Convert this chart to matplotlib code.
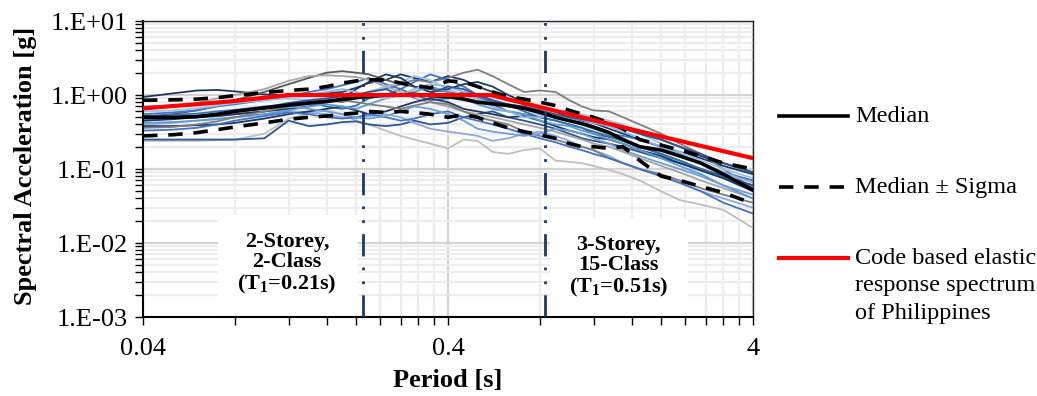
import matplotlib
matplotlib.use("Agg")
import matplotlib.pyplot as plt
from matplotlib.lines import Line2D
from matplotlib.patches import Rectangle
import numpy as np

plt.rcParams['font.family'] = ['Liberation Serif', 'DejaVu Serif']
plt.rcParams['mathtext.fontset'] = 'custom'
plt.rcParams['mathtext.rm'] = 'Liberation Serif'
plt.rcParams['mathtext.bf'] = 'Liberation Serif:bold'
plt.rcParams['mathtext.it'] = 'Liberation Serif:italic'

# ---------------- data ----------------
periods = [0.04, 0.05, 0.06, 0.07, 0.08, 0.10, 0.12, 0.14, 0.16, 0.18, 0.20, 0.22, 0.25,
           0.28, 0.31, 0.35, 0.40, 0.45, 0.50, 0.56, 0.63, 0.71, 0.80, 0.90, 1.0, 1.1,
           1.2, 1.35, 1.5, 1.7, 2.0, 2.3, 2.7, 3.2, 4.0]

rec01 = [0.94, 1.05, 1.15, 1.17, 1.12, 1.02, 0.98, 1.0, 1.05, 1.1, 1.25, 1.45, 1.6, 1.9, 1.7, 1.5, 1.8, 1.6, 1.3, 1.1, 0.9, 0.75, 0.7, 0.6, 0.5, 0.45, 0.42, 0.35, 0.3, 0.25, 0.2, 0.17, 0.14, 0.11, 0.085]
rec02 = [0.5, 0.55, 0.62, 0.72, 0.85, 1.1, 1.4, 1.7, 2.0, 2.1, 2.0, 1.9, 1.6, 1.4, 1.3, 1.2, 1.1, 1.0, 0.9, 0.75, 0.6, 0.55, 0.5, 0.45, 0.4, 0.36, 0.3, 0.27, 0.24, 0.2, 0.16, 0.13, 0.1, 0.08, 0.06]
rec03 = [0.45, 0.48, 0.5, 0.52, 0.55, 0.6, 0.7, 0.8, 0.85, 0.8, 0.9, 1.1, 1.2, 1.4, 1.6, 1.5, 1.7, 2.0, 2.2, 1.8, 1.4, 1.1, 1.15, 1.1, 0.85, 0.7, 0.62, 0.6, 0.5, 0.4, 0.3, 0.22, 0.16, 0.1, 0.055]
rec04 = [0.24, 0.24, 0.24, 0.245, 0.25, 0.3, 0.48, 0.56, 0.62, 0.55, 0.45, 0.4, 0.33, 0.28, 0.25, 0.22, 0.19, 0.25, 0.24, 0.17, 0.16, 0.18, 0.19, 0.13, 0.125, 0.12, 0.11, 0.097, 0.085, 0.07, 0.05, 0.038, 0.033, 0.028, 0.016]
rec05 = [0.25, 0.25, 0.25, 0.25, 0.25, 0.26, 0.45, 0.38, 0.4, 0.43, 0.44, 0.4, 0.38, 0.4, 0.45, 0.4, 0.42, 0.5, 0.55, 0.6, 0.5, 0.45, 0.4, 0.35, 0.3, 0.26, 0.24, 0.22, 0.2, 0.17, 0.14, 0.12, 0.1, 0.08, 0.06]
rec06 = [0.4, 0.42, 0.45, 0.48, 0.5, 0.55, 0.6, 0.58, 0.55, 0.5, 0.48, 0.52, 0.55, 0.5, 0.42, 0.35, 0.32, 0.3, 0.28, 0.24, 0.26, 0.3, 0.32, 0.28, 0.24, 0.2, 0.18, 0.15, 0.12, 0.1, 0.08, 0.065, 0.05, 0.04, 0.03]
rec07 = [0.55, 0.58, 0.62, 0.7, 0.75, 0.85, 0.95, 1.1, 1.2, 1.35, 1.5, 1.7, 1.4, 1.2, 1.5, 1.9, 1.6, 1.3, 1.0, 0.85, 0.7, 0.65, 0.55, 0.5, 0.45, 0.4, 0.35, 0.3, 0.28, 0.25, 0.2, 0.16, 0.12, 0.09, 0.07]
rec08 = [0.6, 0.62, 0.66, 0.72, 0.78, 0.85, 0.9, 0.85, 0.8, 0.85, 0.95, 1.1, 1.3, 1.5, 1.8, 1.6, 1.2, 1.0, 0.9, 0.8, 0.72, 0.68, 0.65, 0.62, 0.6, 0.55, 0.5, 0.45, 0.4, 0.3, 0.22, 0.17, 0.13, 0.1, 0.075]
rec09 = [0.45, 0.47, 0.5, 0.52, 0.55, 0.6, 0.65, 0.7, 0.8, 0.9, 1.2, 1.5, 1.9, 1.7, 1.3, 1.1, 1.2, 1.4, 1.5, 1.3, 1.0, 0.8, 0.7, 0.62, 0.55, 0.5, 0.45, 0.4, 0.35, 0.3, 0.25, 0.2, 0.15, 0.12, 0.09]
rec10 = [0.52, 0.54, 0.56, 0.6, 0.63, 0.7, 0.75, 0.8, 0.7, 0.65, 0.72, 0.9, 1.0, 1.2, 1.0, 0.85, 0.9, 1.1, 0.95, 0.8, 0.75, 0.6, 0.5, 0.45, 0.4, 0.36, 0.32, 0.28, 0.24, 0.2, 0.16, 0.13, 0.1, 0.075, 0.055]
rec11 = [0.65, 0.7, 0.78, 0.9, 1.0, 1.2, 1.55, 1.8, 1.85, 1.8, 1.75, 1.6, 1.3, 1.1, 0.9, 0.8, 0.7, 0.6, 0.55, 0.5, 0.45, 0.4, 0.36, 0.32, 0.28, 0.25, 0.22, 0.2, 0.17, 0.14, 0.11, 0.09, 0.07, 0.055, 0.04]
rec12 = [0.38, 0.38, 0.39, 0.4, 0.42, 0.48, 0.55, 0.6, 0.65, 0.7, 0.62, 0.55, 0.6, 0.7, 0.8, 0.9, 0.8, 0.65, 0.6, 0.55, 0.5, 0.52, 0.45, 0.38, 0.33, 0.3, 0.27, 0.25, 0.22, 0.18, 0.15, 0.12, 0.095, 0.075, 0.05]
rec13 = [0.42, 0.43, 0.45, 0.47, 0.5, 0.55, 0.62, 0.7, 0.75, 0.7, 0.65, 0.75, 0.9, 1.0, 1.1, 1.3, 1.1, 0.9, 0.75, 0.65, 0.6, 0.55, 0.45, 0.4, 0.38, 0.33, 0.3, 0.25, 0.22, 0.18, 0.14, 0.11, 0.085, 0.06, 0.04]
rec14 = [0.36, 0.37, 0.4, 0.44, 0.5, 0.6, 0.7, 0.75, 0.8, 0.85, 0.8, 0.75, 0.7, 0.65, 0.72, 0.8, 0.75, 0.6, 0.5, 0.45, 0.4, 0.32, 0.28, 0.25, 0.22, 0.2, 0.18, 0.14, 0.12, 0.1, 0.085, 0.07, 0.055, 0.045, 0.035]
rec15 = [0.7, 0.72, 0.74, 0.78, 0.82, 0.9, 0.95, 1.0, 1.1, 1.2, 1.1, 1.0, 0.9, 1.0, 1.2, 1.4, 1.3, 1.1, 0.9, 0.7, 0.6, 0.5, 0.5, 0.52, 0.5, 0.46, 0.42, 0.38, 0.32, 0.26, 0.2, 0.16, 0.12, 0.09, 0.065]
rec16 = [0.48, 0.5, 0.52, 0.55, 0.6, 0.68, 0.78, 0.85, 0.9, 0.95, 1.0, 1.1, 1.2, 1.0, 0.95, 1.05, 1.3, 1.2, 1.0, 0.85, 0.75, 0.7, 0.62, 0.55, 0.5, 0.47, 0.44, 0.4, 0.36, 0.3, 0.25, 0.2, 0.16, 0.12, 0.09]
rec17 = [0.33, 0.34, 0.36, 0.4, 0.45, 0.52, 0.58, 0.55, 0.5, 0.48, 0.5, 0.55, 0.5, 0.45, 0.48, 0.55, 0.6, 0.5, 0.45, 0.4, 0.35, 0.3, 0.26, 0.23, 0.2, 0.18, 0.16, 0.14, 0.12, 0.1, 0.08, 0.065, 0.05, 0.035, 0.025]
rec18 = [0.5, 0.5, 0.52, 0.56, 0.6, 0.65, 0.72, 0.65, 0.6, 0.55, 0.5, 0.48, 0.52, 0.6, 0.7, 0.65, 0.55, 0.45, 0.35, 0.32, 0.3, 0.28, 0.3, 0.35, 0.33, 0.3, 0.26, 0.22, 0.18, 0.15, 0.12, 0.1, 0.08, 0.06, 0.045]

records = [rec01, rec02, rec03, rec04, rec05, rec06, rec07, rec08, rec09,
           rec10, rec11, rec12, rec13, rec14, rec15, rec16, rec17, rec18]
record_colors = ['#1F3864', '#595959', '#808080', '#BFBFBF', '#2F5597', '#8FAADC',
                 '#4472C4', '#9DC3E6', '#203864', '#2E75B6', '#A6A6A6', '#1F3864',
                 '#5B9BD5', '#7F7F7F', '#8EB4E3', '#305496', '#4472C4', '#6F9FD8']

median = [0.5, 0.5, 0.51, 0.55, 0.6, 0.67, 0.73, 0.78, 0.82, 0.87, 0.92, 0.95, 1.0,
          1.0, 1.02, 0.98, 0.95, 0.88, 0.8, 0.76, 0.72, 0.66, 0.59, 0.5, 0.45, 0.41,
          0.37, 0.31, 0.25, 0.2, 0.18, 0.15, 0.12, 0.085, 0.052]
median_plus = [0.85, 0.86, 0.88, 0.92, 0.98, 1.08, 1.15, 1.2, 1.3, 1.45, 1.55, 1.6, 1.6,
               1.45, 1.35, 1.25, 1.55, 1.5, 1.3, 1.1, 0.95, 0.88, 0.8, 0.72, 0.62, 0.55,
               0.5, 0.42, 0.35, 0.25, 0.21, 0.18, 0.15, 0.12, 0.1]
median_minus = [0.28, 0.29, 0.31, 0.34, 0.37, 0.42, 0.47, 0.5, 0.52, 0.55, 0.57, 0.6, 0.58,
                0.6, 0.58, 0.55, 0.5, 0.54, 0.5, 0.42, 0.36, 0.32, 0.29, 0.26, 0.22, 0.2,
                0.2, 0.19, 0.2, 0.13, 0.08, 0.07, 0.058, 0.048, 0.034]

code_T = [0.04, 0.06, 0.08, 0.10, 0.12, 0.55, 1.0, 2.0, 4.0]
code_Sa = [0.66, 0.75, 0.83, 0.92, 1.0, 1.0, 0.55, 0.275, 0.14]

building_T = [0.21, 0.83]
building_labels = ['2-Storey,\n2-Class\n(T$_{\\mathbf{1}}$=0.21s)',
                   '3-Storey,\n15-Class\n(T$_{\\mathbf{1}}$=0.51s)']

x_major = [0.04, 0.4, 4]
x_major_labels = ['0.04', '0.4', '4']
y_major = [1e-3, 1e-2, 1e-1, 1e0, 1e1]
y_major_labels = ['1.E-03', '1.E-02', '1.E-01', '1.E+00', '1.E+01']

legend_labels = ['Median', 'Median \u00b1 Sigma', 'Code based elastic']
legend_extra = ['response spectrum', 'of Philippines']

# ---------------- figure ----------------
W, H = 1037, 396
fig = plt.figure(figsize=(W / 100, H / 100), dpi=100)
ax = fig.add_axes([143 / W, 1 - 317 / H, 610 / W, 296 / H])
ax.set_xscale('log')
ax.set_yscale('log')
ax.set_xlim(0.04, 4)
ax.set_ylim(1e-3, 1e1)

x_minor = [b * k for b in (0.04, 0.4) for k in range(2, 10)]
y_minor = [10.0 ** e * k for e in range(-3, 1) for k in range(2, 10)]
ax.set_xticks(x_major, x_major_labels)
ax.set_xticks(x_minor, minor=True)
ax.set_xticklabels([], minor=True)
ax.set_yticks(y_major, y_major_labels)
ax.set_yticks(y_minor, minor=True)
ax.set_yticklabels([], minor=True)

ax.tick_params(axis='both', which='both', direction='out', length=6, width=1,
               colors='black', labelsize=19)
ax.tick_params(axis='x', which='major', pad=9)
ax.tick_params(axis='y', which='major', pad=5)

ax.set_axisbelow(True)
ax.grid(True, which='minor', color='#EDEDED', lw=1.6)
ax.grid(True, which='major', color='#D4D4D4', lw=1.6)
for s in ax.spines.values():
    s.set_color('#262626')
    s.set_linewidth(1.0)
ax.spines['left'].set_linewidth(1.5)
ax.spines['bottom'].set_linewidth(1.5)
ax.spines['left'].set_color('black')
ax.spines['bottom'].set_color('black')

# white boxes behind the building annotations
ax.add_patch(Rectangle((0.0705, 1e-3), 0.203 - 0.0705, 0.0239 - 1e-3,
                       facecolor='white', edgecolor='none', zorder=1))
ax.add_patch(Rectangle((0.864, 1e-3), 2.45 - 0.864, 0.0216 - 1e-3,
                       facecolor='white', edgecolor='none', zorder=1))

for vals, c in zip(records, record_colors):
    ax.plot(periods, vals, color=c, lw=1.3, zorder=2)

ax.plot(periods, median, color='black', lw=2.6, zorder=4)
ax.plot(periods, median_plus, color='black', lw=2.6, ls=(0, (4, 3)), zorder=4)
ax.plot(periods, median_minus, color='black', lw=2.6, ls=(0, (4, 3)), zorder=4)
ax.plot(code_T, code_Sa, color='#FF0000', lw=3.0, zorder=5)

for t in building_T:
    ax.axvline(t, color='#1F3864', lw=2.0, ls=(0, (8, 4, 1, 4, 1, 4)), zorder=6)

ax.text(0.1186, 10 ** ((95 - 264) / 74), building_labels[0], ha='center', va='center',
        fontsize=16, fontweight='bold', linespacing=1.05, zorder=7)
ax.text(1.45, 10 ** ((95 - 267) / 74), building_labels[1], ha='center', va='center',
        fontsize=16, fontweight='bold', linespacing=1.05, zorder=7)

# axis labels
fig.text(26 / W, 1 - 166 / H, 'Spectral Acceleration [g]', rotation=90,
         ha='center', va='center', fontsize=19, fontweight='bold')
fig.text(448 / W, 1 - 381 / H, 'Period [s]', ha='center', va='center',
         fontsize=19, fontweight='bold')

# legend (manual)
leg_y = [116, 187, 258]
styles = [dict(color='black', lw=2.6, ls='-'),
          dict(color='black', lw=2.6, ls=(0, (4, 3))),
          dict(color='#FF0000', lw=3.0, ls='-')]
for yy, st, lab in zip(leg_y, styles, legend_labels):
    fig.add_artist(Line2D([779 / W, 848 / W], [1 - yy / H, 1 - yy / H], **st))
    fig.text(855 / W, 1 - yy / H, lab, ha='left', va='center', fontsize=17.5)
for yy, lab in zip([286, 313], legend_extra):
    fig.text(855 / W, 1 - yy / H, lab, ha='left', va='center', fontsize=17.5)

fig.savefig('out.png', dpi=100)
